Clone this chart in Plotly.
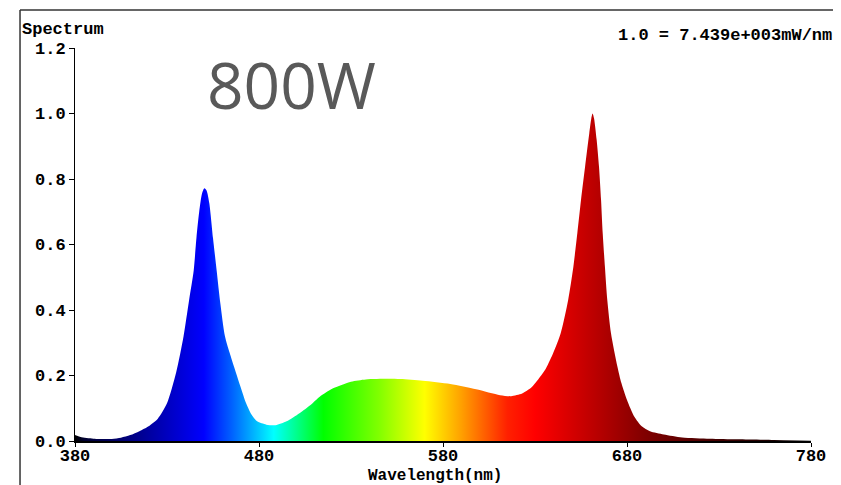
import plotly.graph_objects as go

wavelength = [380, 383, 390, 400, 405, 410, 415, 420, 425, 430, 435, 439, 442, 444.5, 446, 447.5, 449, 450.3,
              451.5, 453, 455, 457, 459, 461.5, 464, 467, 470, 473, 476, 479, 484, 489, 495, 502, 508, 513, 520,
              530, 538, 550, 557, 569, 584, 598, 611, 617, 623, 628, 632, 636, 640, 644, 648, 650.8, 653,
              655, 657.2, 659.5, 660.6, 661.3, 662.1, 663.5, 664.8, 665.9, 666.8, 668, 669.3, 671.3, 674.8, 677,
              680, 684, 688, 692.5, 700, 710, 725, 740, 760, 780]
intensity = [0.018, 0.012, 0.007, 0.006, 0.010, 0.018, 0.030, 0.045, 0.068, 0.115, 0.21, 0.32, 0.43, 0.52, 0.62,
             0.70, 0.755, 0.772, 0.765, 0.726, 0.62, 0.52, 0.42, 0.32, 0.27, 0.217, 0.165, 0.115, 0.08, 0.06, 0.05,
             0.048, 0.06, 0.085, 0.11, 0.135, 0.16, 0.181, 0.188, 0.19, 0.189, 0.184, 0.174, 0.158, 0.140, 0.137,
             0.145, 0.163, 0.19, 0.222, 0.27, 0.33, 0.43, 0.53, 0.634, 0.736, 0.837, 0.94, 0.985, 1.0, 0.985,
             0.92, 0.837, 0.736, 0.634, 0.532, 0.43, 0.329, 0.227, 0.176, 0.125, 0.074, 0.045, 0.03, 0.02, 0.011,
             0.007, 0.005, 0.003, 0.001]

color_stops = [380, 385, 410, 450, 465, 488, 500, 515, 545, 570, 590, 615, 630, 660, 690, 720, 780]
color_values = ["#000000", "#000030", "#000080", "#0000ff", "#0060ff", "#00ffff", "#00ff90", "#00ff00",
                "#80ff00", "#ffff00", "#ffa000", "#ff2000", "#ff0000", "#c00000", "#800000", "#500000", "#000000"]

x_ticks = [380, 480, 580, 680, 780]
y_ticks = [0.0, 0.2, 0.4, 0.6, 0.8, 1.0, 1.2]

colorscale = [[(s - 380) / 400, c] for s, c in zip(color_stops, color_values)]

mono = dict(family="Liberation Mono, Courier New, monospace", size=17, color="black", weight="bold")
mono16 = dict(family="Liberation Mono, Courier New, monospace", size=16, color="black", weight="bold")

fig = go.Figure()
fig.add_trace(go.Scatter(
    x=wavelength, y=intensity, mode="lines",
    line=dict(width=0, color="rgba(0,0,0,0)", shape="spline", smoothing=0.7),
    fill="tozeroy",
    fillgradient=dict(type="horizontal", colorscale=colorscale, start=380, stop=780),
    hoverinfo="x+y", showlegend=False,
))

fig.update_layout(
    width=833, height=477,
    margin=dict(l=67, r=30, t=40, b=44),
    paper_bgcolor="white", plot_bgcolor="white",
    xaxis=dict(range=[380, 780], tickvals=x_ticks, ticktext=[str(t) for t in x_ticks],
               showgrid=False, zeroline=False, showline=True, linecolor="black", linewidth=2,
               ticks="outside", ticklen=4, tickcolor="black", tickfont=mono, ticklabelstandoff=-6),
    yaxis=dict(range=[0, 1.2], tickvals=y_ticks, ticktext=["%.1f" % t for t in y_ticks],
               showgrid=False, zeroline=False, showline=True, linecolor="black", linewidth=1,
               ticks="outside", ticklen=5, tickcolor="black", tickfont=mono),
    shapes=[
        dict(type="line", xref="paper", yref="paper", x0=-0.0747, x1=-0.0747, y0=-0.2, y1=1.0967,
             line=dict(color="#333333", width=1.5)),
        dict(type="line", xref="paper", yref="paper", x0=-0.0747, x1=1.1, y0=1.0967, y1=1.0967,
             line=dict(color="#333333", width=1.5)),
    ],
    annotations=[
        dict(text="Spectrum", xref="paper", yref="paper", x=-0.0747, y=1.048, xanchor="left", yanchor="middle",
             showarrow=False, font=mono),
        dict(text="1.0 = 7.439e+003mW/nm", xref="paper", yref="paper", x=0.735, y=1.033, xanchor="left",
             yanchor="middle", showarrow=False, font=mono),
        dict(text="Wavelength(nm)", xref="paper", yref="paper", x=0.489, y=-0.089, xanchor="center",
             yanchor="middle", showarrow=False, font=mono16),
        dict(text="800W", xref="paper", yref="paper", x=0.2935, y=0.906, xanchor="center", yanchor="middle",
             showarrow=False, font=dict(family="Open Sans, sans-serif", size=64, color="#595959")),
    ],
)

fig.write_html("out.html")
